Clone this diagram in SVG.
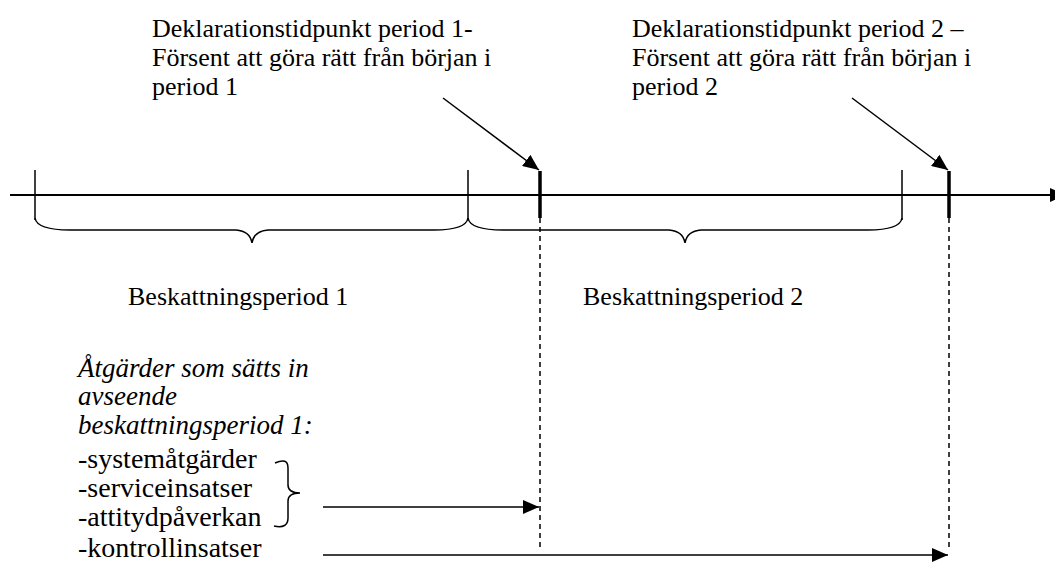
<svg xmlns="http://www.w3.org/2000/svg" width="1055" height="570" viewBox="0 0 1055 570">
  <style>
    .txt { font-family: "Liberation Serif", "Times New Roman", serif; font-size: 26px; fill: #000; }
    .it { font-style: italic; font-size: 27px; }
    .list { font-size: 28px; }
    .line { stroke: #000; fill: none; stroke-width: 1.5; }
    .axis { stroke: #000; fill: none; stroke-width: 2; }
    .thick { stroke: #000; fill: none; stroke-width: 3.5; }
    .dash { stroke: #000; fill: none; stroke-width: 1.5; stroke-dasharray: 5 4; }
  </style>
  <defs>
    <marker id="head" viewBox="0 0 16 14" refX="16" refY="7" markerWidth="16" markerHeight="14" markerUnits="userSpaceOnUse" orient="auto">
      <path d="M0,0 L16,7 L0,14 Z" fill="#000"/>
    </marker>
  </defs>

  <rect width="1055" height="570" fill="#fff"/>

  <!-- time axis -->
  <g id="axis">
    <line class="axis" x1="10" y1="195" x2="1052" y2="195"/>
    <path d="M1050,188 L1066,195 L1050,202 Z" fill="#000"/>
    <line class="line" x1="35" y1="170" x2="35" y2="220"/>
    <line class="line" x1="468" y1="170" x2="468" y2="220"/>
    <line class="line" x1="902" y1="170" x2="902" y2="220"/>
  </g>

  <!-- declaration points -->
  <g id="decl1-mark">
    <line class="thick" x1="540" y1="171" x2="540" y2="218"/>
    <line class="dash" x1="540" y1="218" x2="540" y2="548"/>
  </g>
  <g id="decl2-mark">
    <line class="thick" x1="949" y1="171" x2="949" y2="218"/>
    <line class="dash" x1="949" y1="218" x2="949" y2="548"/>
  </g>

  <!-- period braces -->
  <g id="period1">
    <path class="line" d="M35,218 Q37,230 70,230 L236,230 Q250,231 252,243 Q254,231 268,230 L434,230 Q466,230 468,218"/>
    <text class="txt" x="128" y="305">Beskattningsperiod 1</text>
  </g>
  <g id="period2">
    <path class="line" d="M468,218 Q470,230 503,230 L669,230 Q683,231 685,243 Q687,231 701,230 L868,230 Q900,230 902,218"/>
    <text class="txt" x="583" y="305">Beskattningsperiod 2</text>
  </g>

  <!-- labels -->
  <g id="label1">
    <text class="txt" x="152" y="37">Deklarationstidpunkt period 1-</text>
    <text class="txt" x="152" y="66">Försent att göra rätt från början i</text>
    <text class="txt" x="152" y="95">period 1</text>
  </g>
  <g id="label2">
    <text class="txt" x="632" y="37">Deklarationstidpunkt period 2 –</text>
    <text class="txt" x="632" y="66">Försent att göra rätt från början i</text>
    <text class="txt" x="632" y="95">period 2</text>
  </g>

  <!-- measures -->
  <g id="measures">
    <text class="txt it" x="78" y="377">Åtgärder som sätts in</text>
    <text class="txt it" x="78" y="405">avseende</text>
    <text class="txt it" x="78" y="434">beskattningsperiod 1:</text>
    <text class="txt list" x="78" y="468">-systemåtgärder</text>
    <text class="txt list" x="78" y="497">-serviceinsatser</text>
    <text class="txt list" x="78" y="526">-attitydpåverkan</text>
    <text class="txt list" x="78" y="557">-kontrollinsatser</text>
    <path class="line" d="M275,463 Q288,457 288,468 L288,485 Q288,493 300,493 Q288,493 288,501 L288,518 Q288,529 274,526"/>
  </g>

  <!-- connectors -->
  <g id="connectors">
    <line class="line" x1="443" y1="98" x2="539" y2="170" marker-end="url(#head)"/>
    <line class="line" x1="852" y1="98" x2="948" y2="170" marker-end="url(#head)"/>
    <line class="line" x1="323" y1="507" x2="539" y2="507" marker-end="url(#head)"/>
    <line class="line" x1="323" y1="555" x2="948" y2="555" marker-end="url(#head)"/>
  </g>
</svg>
